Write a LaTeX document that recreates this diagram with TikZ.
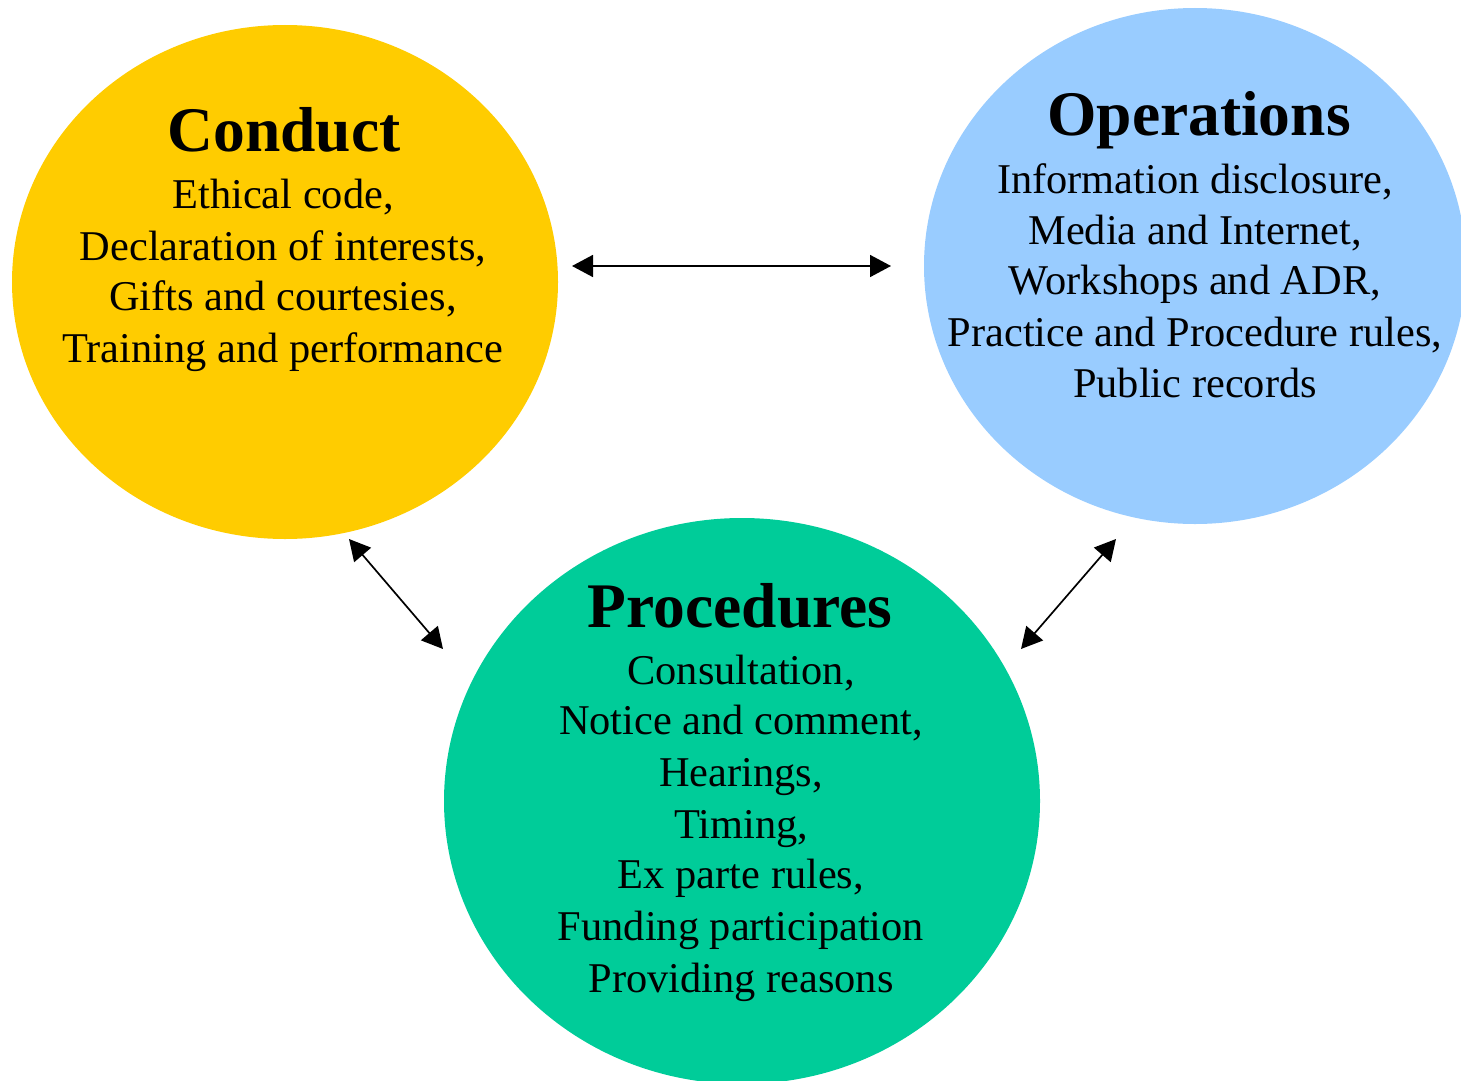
\documentclass[tikz,border=0pt]{standalone}
\usepackage{fontspec}
\setmainfont{Liberation Serif}
\usetikzlibrary{arrows.meta,shapes.geometric}
\definecolor{cyellow}{HTML}{FFCC00}
\definecolor{cblue}{HTML}{99CCFF}
\definecolor{cgreen}{HTML}{00CC99}
\begin{document}
\begin{tikzpicture}[x=1pt,y=-1pt,
  blob/.style={ellipse,inner sep=0pt,draw=none},
  ttl/.style={anchor=base,inner sep=0pt,font=\fontsize{63.5}{70}\selectfont\bfseries},
  txt/.style={anchor=base,inner sep=0pt,font=\fontsize{42.4}{50}\selectfont},
  link/.style={{Triangle[length=21pt 0 0,width=22pt 0 0]}-{Triangle[length=21pt 0 0,width=22pt 0 0]},line width=1.7pt,black}]
\useasboundingbox (0,0) rectangle (1461,1081);
\begin{scope}
\clip (0,0) rectangle (1461,1081);
\node[blob,fill=cyellow,minimum width=546pt,minimum height=514pt] (conduct) at (285,282) {};
\node[blob,fill=cblue,minimum width=542pt,minimum height=516pt] (operations) at (1195,266) {};
\node[blob,fill=cgreen,minimum width=596pt,minimum height=566pt] (procedures) at (742,801) {};
\end{scope}
% Conduct
\node[ttl] (ct) at (284,151) {Conduct};
\node[txt] (c1) at (283,208) {Ethical code,};
\node[txt] (c2) at (283,260) {Declaration of interests,};
\node[txt] (c3) at (283,310) {Gifts and courtesies,};
\node[txt] (c4) at (283,362) {Training and performance};
% Operations
\node[ttl] (ot) at (1199,135) {Operations};
\node[txt] (o1) at (1195,193) {Information disclosure,};
\node[txt] (o2) at (1195,244) {Media and Internet,};
\node[txt] (o3) at (1195,294) {Workshops and ADR,};
\node[txt] (o4) at (1195,346) {Practice and Procedure rules,};
\node[txt] (o5) at (1195,397) {Public records};
% Procedures
\node[ttl] (pt) at (740,627) {Procedures};
\node[txt] (p1) at (741,684) {Consultation,};
\node[txt] (p2) at (741,734) {Notice and comment,};
\node[txt] (p3) at (741,786) {Hearings,};
\node[txt] (p4) at (741,838) {Timing,};
\node[txt] (p5) at (741,888) {Ex parte rules,};
\node[txt] (p6) at (741,940) {Funding participation};
\node[txt] (p7) at (741,992) {Providing reasons};
% connectors
\coordinate (a1) at (572,266);
\coordinate (a2) at (891,266);
\coordinate (b1) at (349,539);
\coordinate (b2) at (443,649);
\coordinate (d1) at (1116,539);
\coordinate (d2) at (1021,649);
\draw[link] (a1) -- (a2);
\draw[link] (b1) -- (b2);
\draw[link] (d1) -- (d2);
\end{tikzpicture}
\end{document}
